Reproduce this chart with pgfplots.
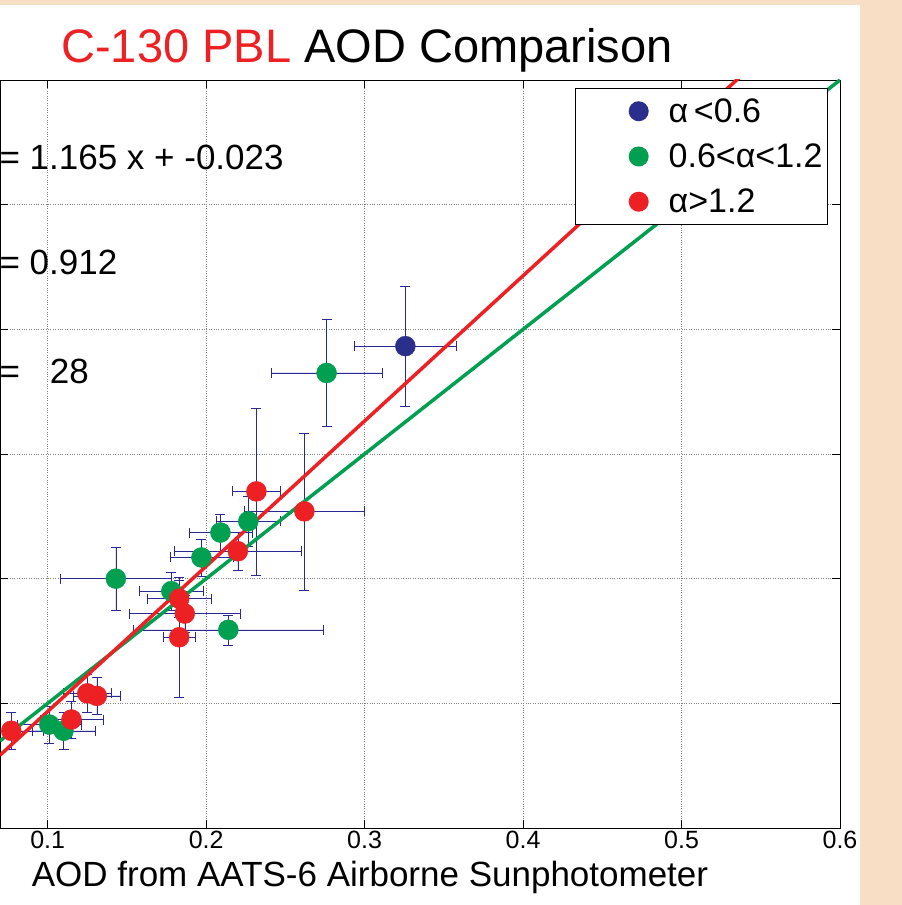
\documentclass[border=0pt]{standalone}
\usepackage{pgfplots}
\pgfplotsset{compat=1.18}
\usepackage{fontspec}
\setmainfont{Liberation Sans}
\definecolor{cblue}{RGB}{43,47,140}
\definecolor{cgreen}{RGB}{0,160,80}
\definecolor{cred}{RGB}{237,32,36}
\definecolor{ebar}{RGB}{40,40,150}
\definecolor{peach}{RGB}{248,222,196}
\newcommand{\lf}{\fontsize{34}{36}\selectfont}
\begin{document}
\begin{tikzpicture}[x=1pt,y=1pt]
\useasboundingbox (0,0) rectangle (902,905);
\clip (0,0) rectangle (902,905);
\fill[peach] (0,0) rectangle (902,905);
\fill[white] (0,0) rectangle (860,900);
\begin{axis}[at={(0pt,77pt)}, anchor=south west, scale only axis,
 width=840pt, height=748pt, xmin=0.0699, xmax=0.6, ymin=0, ymax=0.6,
 xtick={0.1,0.2,...,0.6}, ytick={0,0.1,...,0.6}, yticklabels={},
 xticklabel style={/pgf/number format/.cd,fixed,precision=1},
 ticklabel style={font=\fontsize{25}{28}\selectfont},
 /pgf/number format/assume math mode=true,
 grid=major, grid style={black!50,dotted,thick}, axis line style={black, thick},
 tick align=inside, major tick length=8pt, tick style={black,thick},
 xtick pos=both, ytick pos=both,
 legend style={at={(0.9857,0.989)}, anchor=north east, draw=black, thick, row sep=16pt, inner xsep=3pt, inner ysep=8pt,
   nodes={font=\lf}, /tikz/every odd column/.style={column sep=18pt}},
 legend cell align=left,
 legend image code/.code={\fill[white,opacity=0] (-40pt,-1pt) rectangle (10pt,1pt); \fill[#1] (0pt,0) circle (10pt);},
 error bars/error bar style={ebar, thin}, error bars/error mark options={rotate=90, mark size=5pt, ebar, thin}]
\addplot[only marks, mark=*, mark size=10pt, draw=none, mark options={draw=cblue,fill=cblue}, fill=cblue, error bars/.cd, x dir=both, x explicit, y dir=both, y explicit]
 table[x=x,y=y,x error=ex,y error=ey]{
x y ex ey
0.3257 0.3865 0.032 0.048
};
\addlegendentry{\lf α\,<0.6}
\addplot[only marks, mark=*, mark size=10pt, draw=none, mark options={draw=cgreen,fill=cgreen}, fill=cgreen, error bars/.cd, x dir=both, x explicit, y dir=both, y explicit]
 table[x=x,y=y,x error=ex,y error=ey]{
x y ex ey
0.276 0.365 0.035 0.043
0.2266 0.246 0.02 0.02
0.209 0.237 0.02 0.015
0.197 0.217 0.02 0.015
0.143 0.200 0.035 0.025
0.178 0.190 0.02 0.015
0.214 0.159 0.06 0.012
0.101 0.083 0.02 0.015
0.110 0.078 0.02 0.015
};
\addlegendentry{\lf 0.6<α<1.2}
\addplot[only marks, mark=*, mark size=10pt, draw=none, mark options={draw=cred,fill=cred}, fill=cred, error bars/.cd, x dir=both, x explicit, y dir=both, y explicit]
 table[x=x,y=y,x error=ex,y error=ey]{
x y ex ey
0.2317 0.270 0.015 0.067
0.262 0.254 0.038 0.063
0.220 0.222 0.04 0.015
0.183 0.184 0.02 0.015
0.1865 0.172 0.035 0.015
0.183 0.153 0.01 0.048
0.125 0.108 0.015 0.015
0.131 0.106 0.015 0.015
0.115 0.087 0.02 0.015
0.077 0.078 0.02 0.015
};
\addlegendentry{\lf α>1.2}
\addplot[cgreen, line width=3.5pt, forget plot] coordinates {(0.0699,0.0699) (0.6,0.6)};
\addplot[cred, line width=3.5pt, forget plot] coordinates {(0.0699,0.0584) (0.6,0.676)};
\end{axis}
\node[anchor=base, font=\fontsize{47}{50}\selectfont] at (367,842) {\textcolor{cred}{C-130 PBL} AOD Comparison};
\node[anchor=base west, font=\fontsize{35}{38}\selectfont] at (-4,735) {= 1.165 x + -0.023};
\node[anchor=base west, font=\fontsize{35}{38}\selectfont] at (-4,630) {= 0.912};
\node[anchor=base west, font=\fontsize{35}{38}\selectfont] at (-4,521) {=\hspace{30pt}28};
\node[anchor=base, font=\fontsize{35}{38}\selectfont] at (370,18) {AOD from AATS-6 Airborne Sunphotometer};
\end{tikzpicture}
\end{document}
